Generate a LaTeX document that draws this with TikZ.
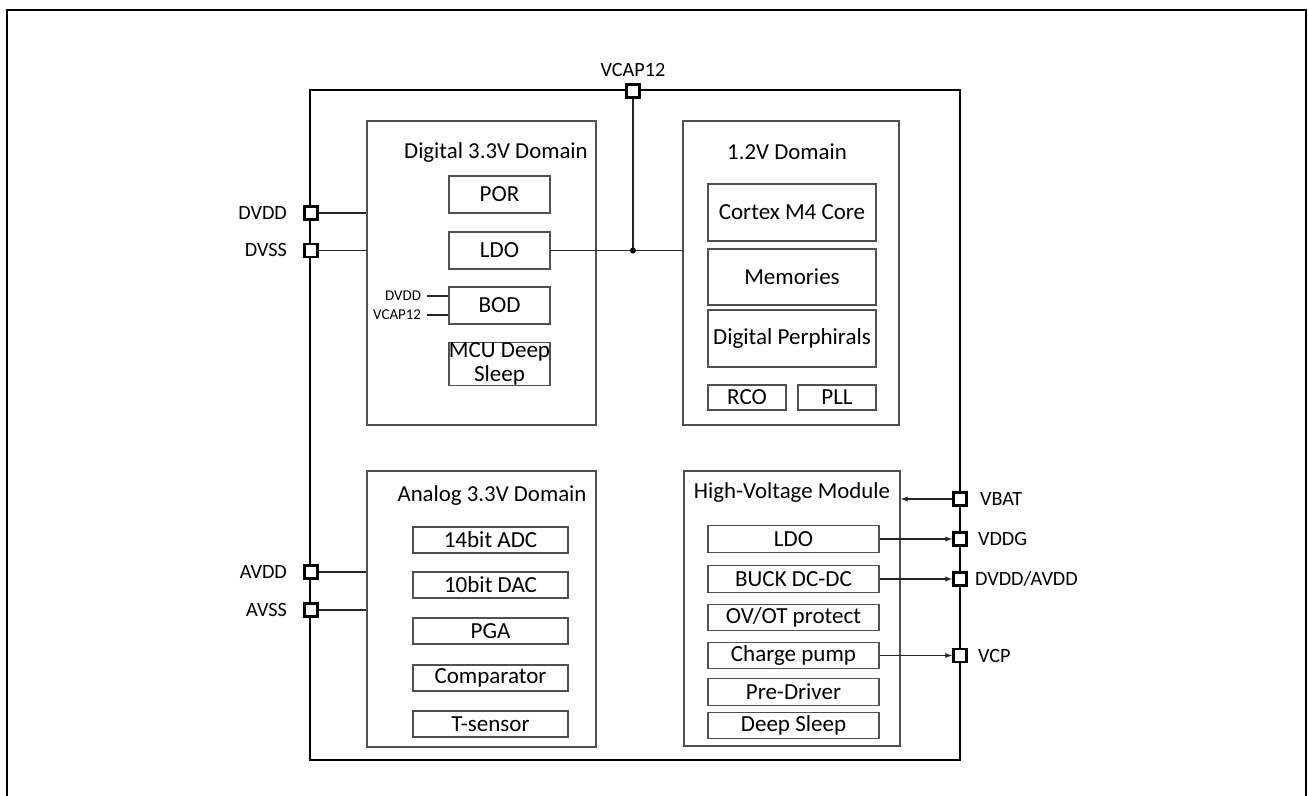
\documentclass[tikz,border=0pt]{standalone}
\usepackage{fontspec}
\setmainfont{Carlito}
\usepackage{tikz}
\usetikzlibrary{arrows.meta,positioning,calc}
\definecolor{boxgray}{RGB}{80,80,80}
\tikzset{
  domainbox/.style={rectangle, draw=boxgray, line width=0.7pt, inner sep=0pt},
  blockbox/.style={rectangle, draw=boxgray, line width=0.7pt, align=center, inner sep=0pt, font=\fontsize{13.1}{13.8}\selectfont},
  titlelbl/.style={inner sep=0pt, font=\fontsize{13}{14}\selectfont},
  pinbox/.style={rectangle, draw, line width=1.4pt, fill=white, minimum size=0.26cm, inner sep=0pt},
  pinlabel/.style={inner sep=0pt, font=\fontsize{11.5}{13}\selectfont},
  smalllabel/.style={inner sep=0pt, font=\fontsize{8.5}{10}\selectfont},
  wire/.style={line width=0.6pt, draw=black!85},
  arrow/.style={wire, -{Latex[length=4pt,width=3pt]}},
}

\begin{document}
\begin{tikzpicture}
  \useasboundingbox (0,0) rectangle (26.18,-15.90);
  % Page frame - bottom edge left open
  \draw[line width=1.6pt] (0.14,-15.95) -- (0.14,-0.20) -- (26.12,-0.20) -- (26.12,-15.95);

  % Chip outline
  \node[draw, line width=1.1pt, minimum width=13.0cm, minimum height=13.4cm, inner sep=0pt] (chip) at (12.70,-8.50) {};

  % Four domains
  \node[domainbox, minimum width=4.58cm, minimum height=6.08cm] (dig) at (9.63,-5.46) {};
  \node[domainbox, minimum width=4.32cm, minimum height=6.08cm] (core) at (15.82,-5.46) {};
  \node[domainbox, minimum width=4.58cm, minimum height=5.52cm] (ana) at (9.63,-12.18) {};
  \node[domainbox, minimum width=4.32cm, minimum height=5.50cm] (hv) at (15.84,-12.17) {};

  \node[titlelbl] (digtitle) at (9.92,-3.06) {Digital 3.3V Domain};
  \node[titlelbl] (coretitle) at (15.74,-3.04) {1.2V Domain};
  \node[titlelbl] (anatitle) at (9.84,-9.92) {Analog 3.3V Domain};
  \node[titlelbl] (hvtitle) at (15.84,-9.86) {High-Voltage Module};

  % Digital 3.3V blocks
  \node[blockbox, minimum width=2.02cm, minimum height=0.74cm] (por) at (9.99,-3.89) {POR};
  \node[blockbox, minimum width=2.02cm, minimum height=0.74cm] (ldo) at (9.99,-5.01) {LDO};
  \node[blockbox, minimum width=2.02cm, minimum height=0.74cm] (bod) at (9.99,-6.11) {BOD};
  \node[blockbox, minimum width=2.02cm, minimum height=0.84cm] (mcu) at (9.99,-7.28) {MCU Deep\\Sleep};

  % 1.2V blocks
  \node[blockbox, minimum width=3.36cm, minimum height=1.14cm] (cortex) at (15.84,-4.25) {Cortex M4 Core};
  \node[blockbox, minimum width=3.36cm, minimum height=1.12cm] (mem) at (15.84,-5.54) {Memories};
  \node[blockbox, minimum width=3.36cm, minimum height=1.14cm] (periph) at (15.84,-6.77) {Digital Perphirals};
  \node[blockbox, minimum width=1.56cm, minimum height=0.50cm] (rco) at (14.94,-7.95) {RCO};
  \node[blockbox, minimum width=1.56cm, minimum height=0.50cm] (pll) at (16.74,-7.95) {PLL};

  % Analog blocks
  \node[blockbox, minimum width=3.10cm, minimum height=0.52cm] (adc) at (9.81,-10.80) {14bit ADC};
  \node[blockbox, minimum width=3.10cm, minimum height=0.52cm] (dac) at (9.81,-11.70) {10bit DAC};
  \node[blockbox, minimum width=3.10cm, minimum height=0.52cm] (pga) at (9.81,-12.62) {PGA};
  \node[blockbox, minimum width=3.10cm, minimum height=0.52cm] (comp) at (9.81,-13.56) {Comparator};
  \node[blockbox, minimum width=3.10cm, minimum height=0.52cm] (tsen) at (9.81,-14.48) {T-sensor};

  % High-voltage blocks
  \node[blockbox, minimum width=3.42cm, minimum height=0.53cm] (hvldo) at (15.87,-10.78) {LDO};
  \node[blockbox, minimum width=3.42cm, minimum height=0.53cm] (buck) at (15.87,-11.58) {BUCK DC-DC};
  \node[blockbox, minimum width=3.42cm, minimum height=0.53cm] (ovot) at (15.87,-12.35) {OV/OT protect};
  \node[blockbox, minimum width=3.42cm, minimum height=0.53cm] (cpump) at (15.87,-13.11) {Charge pump};
  \node[blockbox, minimum width=3.42cm, minimum height=0.53cm] (predrv) at (15.87,-13.84) {Pre-Driver};
  \node[blockbox, minimum width=3.42cm, minimum height=0.53cm] (dslp) at (15.87,-14.51) {Deep Sleep};

  % Pins
  \node[pinbox] (vcap) at (12.66,-1.82) {};
  \node[pinbox] (dvdd) at (6.22,-4.26) {};
  \node[pinbox] (dvss) at (6.22,-5.01) {};
  \node[pinbox] (avdd) at (6.22,-11.44) {};
  \node[pinbox] (avss) at (6.22,-12.20) {};
  \node[pinbox] (vbat) at (19.20,-9.98) {};
  \node[pinbox] (vddg) at (19.20,-10.78) {};
  \node[pinbox] (dvav) at (19.20,-11.58) {};
  \node[pinbox] (vcp) at (19.20,-13.11) {};

  \node[pinlabel, above=0.12cm of vcap] (vcaplbl) {VCAP12};
  \node[pinlabel, left=0.32cm of dvdd] (dvddlbl) {DVDD};
  \node[pinlabel, left=0.32cm of dvss] (dvsslbl) {DVSS};
  \node[pinlabel, left=0.32cm of avdd] (avddlbl) {AVDD};
  \node[pinlabel, left=0.32cm of avss] (avsslbl) {AVSS};
  \node[pinlabel, right=0.24cm of vbat] (vbatlbl) {VBAT};
  \node[pinlabel, right=0.20cm of vddg] (vddglbl) {VDDG};
  \node[pinlabel, right=0.14cm of dvav] (dvavlbl) {DVDD/AVDD};
  \node[pinlabel, right=0.20cm of vcp] (vcplbl) {VCP};

  % Supply wires
  \draw[wire] (dvdd) -- (dvdd -| dig.west);
  \draw[wire] (dvss) -- (dvss -| dig.west);
  \draw[wire] (avdd) -- (avdd -| ana.west);
  \draw[wire] (avss) -- (avss -| ana.west);

  % LDO output to 1.2V domain and VCAP12
  \coordinate (junc) at (vcap |- ldo.east);
  \draw[wire] (ldo.east) -- (ldo.east -| core.west);
  \draw[wire] (vcap.south) -- (junc);
  \fill (junc) circle (0.06cm);

  % BOD inputs
  \coordinate (bodin1) at ($(bod.west)+(-0.42,0.19)$);
  \coordinate (bodin2) at ($(bod.west)+(-0.42,-0.19)$);
  \draw[wire] (bodin1) -- (bodin1 -| bod.west);
  \draw[wire] (bodin2) -- (bodin2 -| bod.west);
  \node[smalllabel, anchor=east] (bodlbl1) at ($(bodin1)+(-0.12,0)$) {DVDD};
  \node[smalllabel, anchor=east] (bodlbl2) at ($(bodin2)+(-0.12,0)$) {VCAP12};

  % High-voltage module connections
  \draw[arrow] (vbat.west) -- (vbat -| hv.east);
  \draw[arrow] (hvldo.east) -- (vddg.west);
  \draw[arrow] (buck.east) -- (dvav.west);
  \draw[arrow] (cpump.east) -- (vcp.west);

\end{tikzpicture}
\end{document}
